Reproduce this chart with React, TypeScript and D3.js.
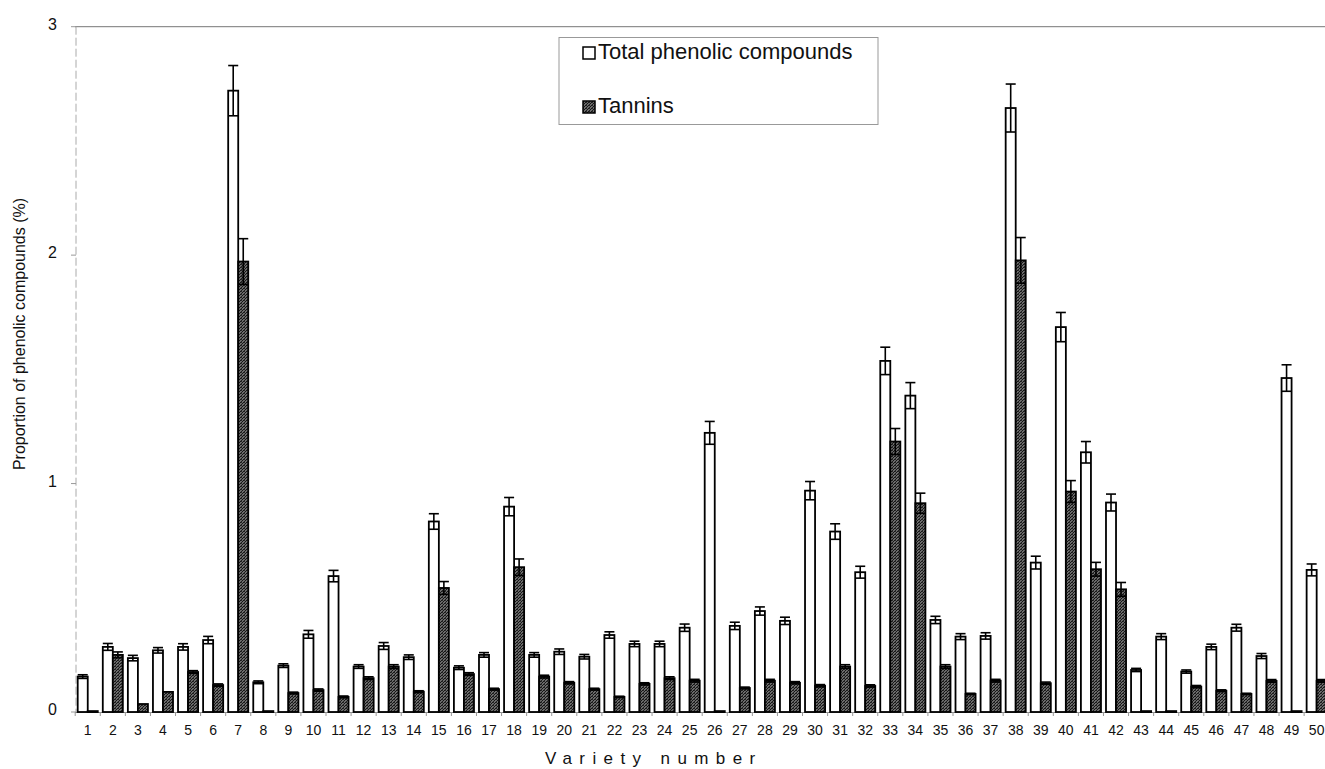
import React from "react";
import * as d3 from "d3";

const varieties: string[] = Array.from({ length: 50 }, (_, i) => String(i + 1));

const totalPhenolic: number[] = [
  0.155, 0.285, 0.236, 0.27, 0.285, 0.315, 2.72, 0.13, 0.203, 0.34,
  0.595, 0.199, 0.289, 0.24, 0.834, 0.194, 0.25, 0.899, 0.25, 0.264,
  0.242, 0.337, 0.298, 0.298, 0.369, 1.222, 0.377, 0.442, 0.399, 0.969,
  0.79, 0.612, 1.537, 1.385, 0.403, 0.33, 0.333, 2.644, 0.654, 1.685,
  1.137, 0.917, 0.184, 0.33, 0.177, 0.285, 0.369, 0.245, 1.462, 0.622,
];

const totalError: number[] = [
  0.008, 0.015, 0.012, 0.012, 0.014, 0.016, 0.11, 0.006, 0.008, 0.017,
  0.025, 0.008, 0.015, 0.01, 0.034, 0.008, 0.01, 0.04, 0.01, 0.012,
  0.01, 0.014, 0.012, 0.012, 0.016, 0.05, 0.016, 0.018, 0.016, 0.04,
  0.034, 0.026, 0.06, 0.057, 0.016, 0.013, 0.014, 0.105, 0.028, 0.064,
  0.047, 0.037, 0.007, 0.013, 0.007, 0.012, 0.015, 0.011, 0.058, 0.026,
];

const tannins: number[] = [
  0.004, 0.25, 0.035, 0.088, 0.175, 0.118, 1.972, 0.004, 0.083, 0.096,
  0.066, 0.148, 0.199, 0.089, 0.543, 0.166, 0.1, 0.634, 0.155, 0.128,
  0.1, 0.066, 0.123, 0.148, 0.137, 0.004, 0.105, 0.137, 0.128, 0.115,
  0.199, 0.114, 1.184, 0.914, 0.199, 0.079, 0.137, 1.977, 0.126, 0.965,
  0.625, 0.537, 0.004, 0.004, 0.111, 0.093, 0.079, 0.136, 0.004, 0.136,
];

const tanninError: number[] = [
  0, 0.013, 0, 0, 0.006, 0.005, 0.1, 0, 0.004, 0.005,
  0.004, 0.006, 0.008, 0.004, 0.028, 0.006, 0.004, 0.036, 0.006, 0.005,
  0.004, 0.003, 0.005, 0.006, 0.006, 0, 0.004, 0.006, 0.005, 0.005,
  0.008, 0.005, 0.057, 0.044, 0.008, 0.003, 0.006, 0.1, 0.005, 0.048,
  0.03, 0.03, 0, 0, 0.005, 0.004, 0.003, 0.006, 0, 0.006,
];

const yTicks: number[] = [0, 1, 2, 3];
const seriesKeys: string[] = ["total", "tannins"];
const legendLabels: string[] = ["Total phenolic compounds", "Tannins"];

const W = 1325;
const H = 769;
const plotLeft = 75.2;
const plotRight = 1329.2;
const yBottom = 712;
const yTop = 26.7;
const FONT = "Arial, 'Liberation Sans', Helvetica, sans-serif";

export default function App() {
  const x0 = d3
    .scaleBand<string>()
    .domain(varieties)
    .range([plotLeft, plotRight])
    .paddingInner(0.2)
    .paddingOuter(0.1);
  const x1 = d3
    .scaleBand<string>()
    .domain(seriesKeys)
    .range([0, x0.bandwidth()]);
  const y = d3.scaleLinear().domain([0, 3]).range([yBottom, yTop]);

  const step = x0.step();
  const bw = x1.bandwidth();

  const series = [
    { key: "total", values: totalPhenolic, errs: totalError, fill: "#ffffff" },
    { key: "tannins", values: tannins, errs: tanninError, fill: "url(#stipple)" },
  ];

  return (
    <svg
      width={W}
      height={H}
      style={{ position: "absolute", left: 0, top: 0, background: "#fff" }}
      fontFamily={FONT}
    >
      <defs>
        <pattern id="stipple" width="3" height="3" patternUnits="userSpaceOnUse">
          <rect width="3" height="3" fill="#6a6a6a" />
          <rect x="0" y="0" width="1" height="1" fill="#141414" />
          <rect x="2" y="1" width="1" height="1" fill="#141414" />
          <rect x="1" y="2" width="1" height="1" fill="#1e1e1e" />
          <rect x="1" y="0" width="1" height="1" fill="#2a2a2a" />
        </pattern>
      </defs>
      <rect x={0} y={0} width={W} height={H} fill="#fff" />

      {/* top gridline at 3 */}
      <line x1={75} x2={W} y1={y(3)} y2={y(3)} stroke="#777" strokeWidth={1} />
      {/* left axis */}
      <line
        x1={76}
        x2={76}
        y1={y(3)}
        y2={yBottom}
        stroke="#aaa"
        strokeWidth={1}
        strokeDasharray="8,3"
      />
      {yTicks.map((t) => (
        <g key={"yt" + t}>
          <line x1={71} x2={76} y1={y(t)} y2={y(t)} stroke="#999" strokeWidth={1} />
          <text
            x={57}
            y={y(t) + 3}
            textAnchor="end"
            fontSize={16}
            fill="#111"
          >
            {t}
          </text>
        </g>
      ))}

      {/* baseline */}
      <line
        x1={75}
        x2={W}
        y1={yBottom + 0.5}
        y2={yBottom + 0.5}
        stroke="#888"
        strokeWidth={1}
      />
      {varieties.map((v) => {
        const bx = (x0(v) as number) - (step - x0.bandwidth()) / 2;
        return (
          <line
            key={"bt" + v}
            x1={bx}
            x2={bx}
            y1={yBottom}
            y2={yBottom + 4}
            stroke="#999"
            strokeWidth={1}
          />
        );
      })}

      {/* bars */}
      {series.map((s) => (
        <g key={s.key}>
          {varieties.map((v, i) => {
            const bx = (x0(v) as number) + (x1(s.key) as number);
            const val = s.values[i];
            const top = y(val);
            return (
              <rect
                key={s.key + v}
                x={bx}
                y={top}
                width={bw}
                height={Math.max(yBottom - top, 1)}
                fill={s.fill}
                stroke="#000"
                strokeWidth={1.8}
              />
            );
          })}
        </g>
      ))}

      {/* error bars */}
      {series.map((s) => (
        <g key={"err" + s.key}>
          {varieties.map((v, i) => {
            const e = s.errs[i];
            if (e <= 0) return null;
            const bx = (x0(v) as number) + (x1(s.key) as number);
            const cx = bx + bw / 2;
            const hi = y(s.values[i] + e);
            const lo = y(s.values[i] - e);
            return (
              <g key={"e" + s.key + v} stroke="#000" strokeWidth={1.6}>
                <line x1={cx} x2={cx} y1={hi} y2={lo} />
                <line x1={bx} x2={bx + bw} y1={hi} y2={hi} />
                <line x1={bx} x2={bx + bw} y1={lo} y2={lo} />
              </g>
            );
          })}
        </g>
      ))}

      {/* x tick labels */}
      {varieties.map((v) => (
        <text
          key={"xl" + v}
          x={(x0(v) as number) + x0.bandwidth() / 2}
          y={735}
          textAnchor="middle"
          fontSize={14}
          fill="#111"
        >
          {v}
        </text>
      ))}

      {/* axis titles */}
      <text x={545} y={764} fontSize={17} letterSpacing={7.4} fill="#111">
        Variety number
      </text>
      <text
        transform={`translate(25, 334) rotate(-90)`}
        textAnchor="middle"
        fontSize={16}
        fill="#111"
      >
        Proportion of phenolic compounds (%)
      </text>

      {/* legend */}
      <g>
        <rect x={559} y={37.5} width={319} height={87} fill="#fff" stroke="#999" strokeWidth={1} />
        {legendLabels.map((lab, i) => {
          const ly = i === 0 ? 59 : 113;
          return (
            <g key={"lg" + i}>
              <rect
                x={583}
                y={ly - 12}
                width={12}
                height={12}
                fill={series[i].fill}
                stroke="#000"
                strokeWidth={1.5}
              />
              <text x={598} y={ly} fontSize={22} fill="#111">
                {lab}
              </text>
            </g>
          );
        })}
      </g>
    </svg>
  );
}
